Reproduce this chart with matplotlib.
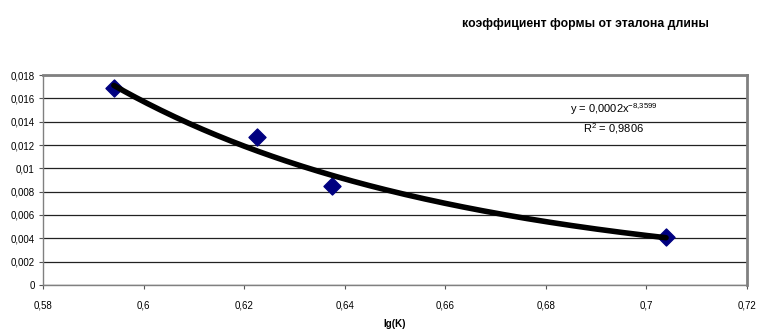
import numpy as np
import matplotlib.pyplot as plt
from matplotlib.ticker import FuncFormatter

plt.rcParams['font.family'] = ['Liberation Sans', 'DejaVu Sans']
plt.rcParams['mathtext.fontset'] = 'custom'
plt.rcParams['mathtext.rm'] = 'Liberation Sans'

lg_k = [0.5941, 0.6226, 0.6375, 0.7039]
coef = [0.01689, 0.01269, 0.00849, 0.00411]

# power trend line fitted in log space, as Excel does
b, log_a = np.polyfit(np.log(lg_k), np.log(coef), 1)
xs = np.linspace(min(lg_k), max(lg_k), 200)
ys = np.exp(log_a) * xs ** b

fig = plt.figure(figsize=(7.58, 3.31), dpi=100)
ax = fig.add_axes([0.0567, 0.139, 0.9288, 0.6344])

ax.plot(xs, ys, color='black', lw=4, zorder=3, solid_capstyle='round')
ax.scatter(lg_k, coef, marker='D', s=75, color='#000080', zorder=2)

ax.set_xlim(0.58, 0.72)
ax.set_ylim(0, 0.018)
ax.set_xticks(np.arange(0.58, 0.7201, 0.02))
ax.set_yticks(np.arange(0, 0.01801, 0.002))

def comma(v, pos):
    s = f'{v:.3f}'.rstrip('0').rstrip('.')
    return s.replace('.', ',')

ax.xaxis.set_major_formatter(FuncFormatter(comma))
ax.yaxis.set_major_formatter(FuncFormatter(comma))
ax.tick_params(labelsize=7, length=3, width=0.8, color='#555555', direction='out', pad=3)
ax.xaxis.set_tick_params(pad=8)

ax.grid(axis='y', color='#222222', lw=0.9)
ax.set_axisbelow(True)
for side in ['top', 'right']:
    ax.spines[side].set_color('#808080')
    ax.spines[side].set_linewidth(2)
for side in ['left', 'bottom']:
    ax.spines[side].set_color('#808080')
    ax.spines[side].set_linewidth(1)

ax.set_xlabel('lg(K)', fontsize=7, fontweight='bold', labelpad=6)

ax.text(0.6935, 0.0151, r'y = 0,0002x$^{\mathrm{-8{,}3599}}$', fontsize=8,
        ha='center', va='center')
ax.text(0.6935, 0.0134, r'R$^{\mathrm{2}}$ = 0,9806', fontsize=8,
        ha='center', va='center')

fig.text(0.773, 0.927, 'коэффициент формы от эталона длины', fontsize=8.8,
         fontweight='bold', ha='center', va='center')

fig.savefig('out.png', dpi=100)
